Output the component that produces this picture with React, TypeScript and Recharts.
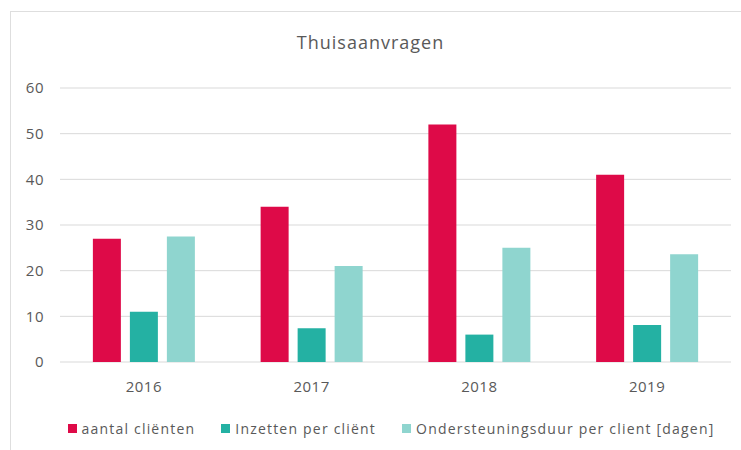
import React from "react";
import { BarChart, Bar, XAxis, YAxis, CartesianGrid, Legend } from "recharts";

const years = ["2016", "2017", "2018", "2019"];
const aantalClienten = [27, 34, 52, 41];
const inzettenPerClient = [11, 7.4, 6, 8.1];
const ondersteuningsduur = [27.5, 21, 25, 23.6];
const yTicks = [0, 10, 20, 30, 40, 50, 60];

const seriesNames = [
  "aantal cliënten",
  "Inzetten per cliënt",
  "Ondersteuningsduur per client [dagen]",
];
const colors = ["#DE0A48", "#24B1A3", "#8FD5CF"];

const data = years.map((y, i) => ({
  year: y,
  a: aantalClienten[i],
  b: inzettenPerClient[i],
  c: ondersteuningsduur[i],
}));

const FONT = "'Open Sans', sans-serif";
const GRAY = "#595959";

const renderLegend = () => {
  return (
    <div
      style={{
        display: "flex",
        justifyContent: "center",
        alignItems: "center",
        height: 24,
        fontFamily: FONT,
        fontSize: 14,
        letterSpacing: 1.2,
        color: GRAY,
      }}
    >
      {seriesNames.map((name, i) => (
        <div
          key={i}
          style={{ display: "flex", alignItems: "center", marginRight: i < seriesNames.length - 1 ? 26 : 0 }}
        >
          <span style={{ display: "inline-block", width: 9, height: 9, background: colors[i], marginRight: 5 }} />
          <span>{name}</span>
        </div>
      ))}
    </div>
  );
};

export default function App() {
  return (
    <div
      style={{
        position: "absolute",
        left: 0,
        top: 0,
        width: 741,
        height: 450,
        overflow: "hidden",
        background: "#fff",
      }}
    >
      <div
        style={{
          position: "absolute",
          left: 10,
          top: 11,
          width: 800,
          height: 500,
          border: "1px solid #DEDEDE",
        }}
      />
      <div
        style={{
          position: "absolute",
          left: 0,
          width: 741,
          top: 33,
          textAlign: "center",
          fontFamily: FONT,
          fontSize: 18,
          letterSpacing: 1,
          lineHeight: "18px",
          color: GRAY,
        }}
      >
        Thuisaanvragen
      </div>
      <BarChart
        width={741}
        height={450}
        data={data}
        margin={{ top: 88, right: 10, left: 0, bottom: 34 }}
        barCategoryGap="19.6%"
        barGap={9}
        style={{ position: "absolute", left: 0, top: 0 }}
      >
        <CartesianGrid vertical={false} stroke="#D9D9D9" />
        <XAxis
          dataKey="year"
          axisLine={false}
          tickLine={false}
          tickSize={0}
          tickMargin={19}
          height={30}
          tick={{ fill: GRAY, fontSize: 15, fontFamily: FONT, letterSpacing: 0.5 }}
        />
        <YAxis
          domain={[0, 60]}
          ticks={yTicks}
          axisLine={false}
          tickLine={false}
          tickSize={0}
          tickMargin={16}
          width={60}
          tick={{ fill: GRAY, fontSize: 15, fontFamily: FONT, letterSpacing: 0.5 }}
        />
        <Legend
          verticalAlign="bottom"
          content={renderLegend}
          wrapperStyle={{ top: 416, left: 50, width: 682, bottom: "auto" }}
        />
        <Bar dataKey="a" name={seriesNames[0]} fill={colors[0]} isAnimationActive={false} />
        <Bar dataKey="b" name={seriesNames[1]} fill={colors[1]} isAnimationActive={false} />
        <Bar dataKey="c" name={seriesNames[2]} fill={colors[2]} isAnimationActive={false} />
      </BarChart>
    </div>
  );
}
